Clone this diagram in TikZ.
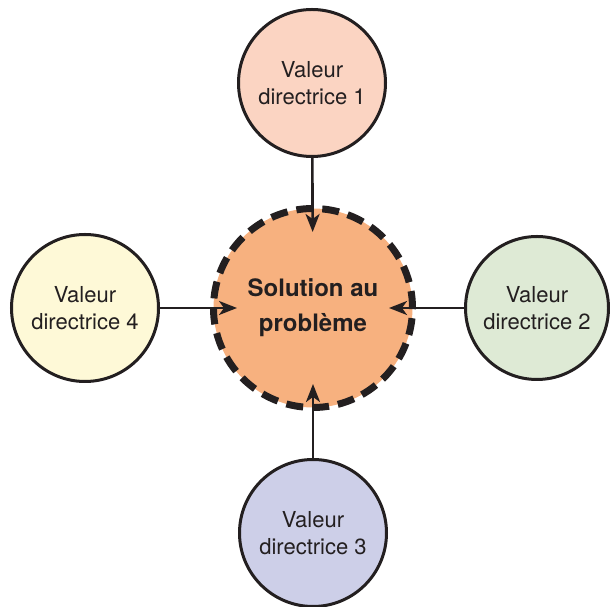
\documentclass[tikz,border=0pt]{standalone}
\usepackage{fontspec}
\setmainfont{TeX Gyre Heros}
\usetikzlibrary{arrows.meta}

\definecolor{inkline}{HTML}{231F20}
\definecolor{solfill}{HTML}{F7B17F}
\definecolor{valone}{HTML}{FBD4C2}
\definecolor{valtwo}{HTML}{DEEAD5}
\definecolor{valthree}{HTML}{CDCFE8}
\definecolor{valfour}{HTML}{FEF9D7}

\tikzset{
  valeur/.style={circle,draw=inkline,line width=3pt,minimum size=147pt,inner sep=0pt,
    align=center,font=\fontsize{22}{27}\selectfont,text=inkline},
  solution/.style={circle,draw=inkline,line width=7pt,dash pattern=on 17pt off 9pt,
    fill=solfill,minimum size=199pt,inner sep=0pt,align=center,
    font=\bfseries\fontsize{24}{35}\selectfont,text=inkline},
  lien/.style={draw=inkline,line width=2.6pt,-{Stealth[length=18pt,width=14pt,inset=5pt]},shorten >=-27pt}
}

\begin{document}
\begin{tikzpicture}[x=1pt,y=1pt]
    \useasboundingbox (0,0) rectangle (610,607);

    \node[solution] (sol) at (313,299) {Solution au\\probl\`eme};

    \node[valeur,fill=valone] (V1) at (312,524) {Valeur\\directrice 1};
    \node[valeur,fill=valtwo,minimum size=143pt] (V2) at (537,299) {Valeur\\directrice 2};
    \node[valeur,fill=valthree] (V3) at (313,74) {Valeur\\directrice 3};
    \node[valeur,fill=valfour] (V4) at (85,299) {Valeur\\directrice 4};

    \draw[lien] (V1) -- (sol);
    \draw[lien] (V2) -- (sol);
    \draw[lien] (V3) -- (sol);
    \draw[lien] (V4) -- (sol);
\end{tikzpicture}
\end{document}
